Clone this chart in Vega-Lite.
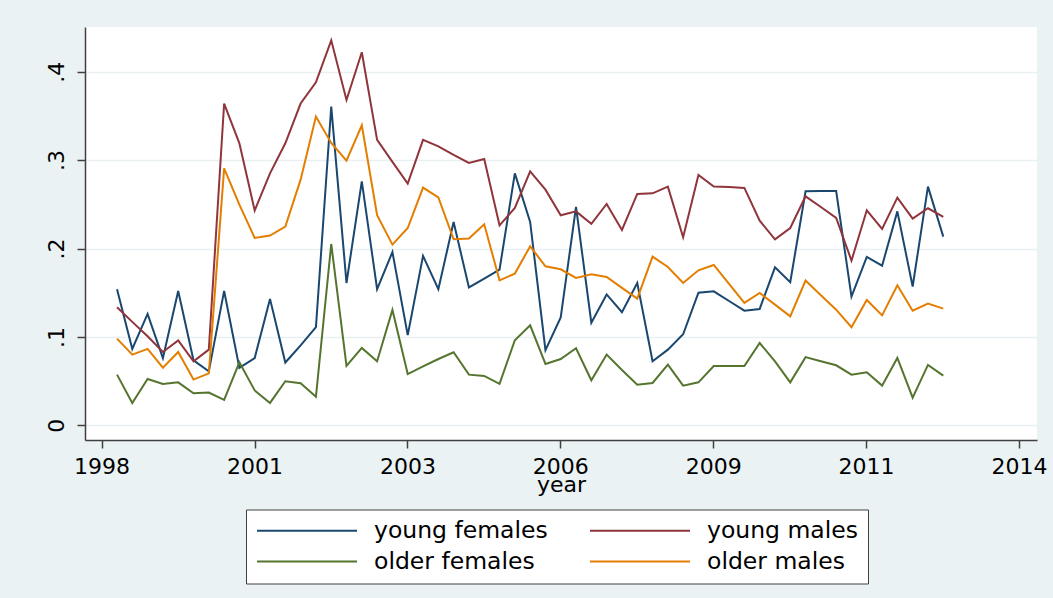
{
  "$schema": "https://vega.github.io/schema/vega-lite/v6.json",
  "width": 952,
  "height": 413,
  "autosize": {"type": "none"},
  "padding": {"left": 85, "top": 27, "right": 16, "bottom": 158},
  "background": "#EAF2F3",
  "config": {
    "font": "DejaVu Sans",
    "view": {"fill": "white", "stroke": null},
    "axis": {
      "domainColor": "#404040",
      "domainWidth": 1.5,
      "tickColor": "#404040",
      "tickWidth": 1.5,
      "tickSize": 8,
      "labelColor": "black",
      "labelFontSize": 22,
      "labelFlush": false,
      "labelOverlap": false,
      "titleColor": "black",
      "titleFontSize": 22,
      "titleFontWeight": "normal"
    }
  },
  "data": {
    "values": [
      {"year": 1998.269, "young females": 0.154, "young males": 0.1335, "older females": 0.0573, "older males": 0.098},
      {"year": 1998.535, "young females": 0.0864, "young males": 0.117, "older females": 0.0253, "older males": 0.080},
      {"year": 1998.802, "young females": 0.126, "young males": 0.1007, "older females": 0.0524, "older males": 0.0864},
      {"year": 1999.069, "young females": 0.076, "young males": 0.083, "older females": 0.0468, "older males": 0.0652},
      {"year": 1999.336, "young females": 0.152, "young males": 0.096, "older females": 0.0486, "older males": 0.083},
      {"year": 1999.603, "young females": 0.0735, "young males": 0.0724, "older females": 0.0362, "older males": 0.0517},
      {"year": 1999.870, "young females": 0.061, "young males": 0.0856, "older females": 0.037, "older males": 0.0588},
      {"year": 2000.137, "young females": 0.152, "young males": 0.364, "older females": 0.0287, "older males": 0.2907},
      {"year": 2000.403, "young females": 0.065, "young males": 0.319, "older females": 0.0713, "older males": 0.2496},
      {"year": 2000.670, "young females": 0.076, "young males": 0.243, "older females": 0.0394, "older males": 0.2119},
      {"year": 2000.937, "young females": 0.143, "young males": 0.285, "older females": 0.0253, "older males": 0.2146},
      {"year": 2001.204, "young females": 0.071, "young males": 0.319, "older females": 0.0498, "older males": 0.2247},
      {"year": 2001.471, "young females": 0.0905, "young males": 0.364, "older females": 0.0475, "older males": 0.2779},
      {"year": 2001.738, "young females": 0.111, "young males": 0.388, "older females": 0.0324, "older males": 0.3492},
      {"year": 2002.005, "young females": 0.3605, "young males": 0.4355, "older females": 0.2051, "older males": 0.3194},
      {"year": 2002.271, "young females": 0.161, "young males": 0.368, "older females": 0.0671, "older males": 0.2994},
      {"year": 2002.538, "young females": 0.276, "young males": 0.422, "older females": 0.0875, "older males": 0.3394},
      {"year": 2002.805, "young females": 0.154, "young males": 0.3228, "older females": 0.0724, "older males": 0.2376},
      {"year": 2003.072, "young females": 0.196, "young males": 0.298, "older females": 0.1305, "older males": 0.2044},
      {"year": 2003.339, "young females": 0.102, "young males": 0.2734, "older females": 0.058, "older males": 0.2232},
      {"year": 2003.606, "young females": 0.1916, "young males": 0.3228, "older females": 0.0667, "older males": 0.2689},
      {"year": 2003.873, "young females": 0.154, "young males": 0.3156, "older females": 0.075, "older males": 0.2579},
      {"year": 2004.139, "young females": 0.230, "young males": 0.3058, "older females": 0.0826, "older males": 0.2104},
      {"year": 2004.406, "young females": 0.156, "young males": 0.2968, "older females": 0.0573, "older males": 0.2112},
      {"year": 2004.673, "young females": 0.166, "young males": 0.3013, "older females": 0.0558, "older males": 0.2274},
      {"year": 2004.940, "young females": 0.176, "young males": 0.2262, "older females": 0.0468, "older males": 0.164},
      {"year": 2005.207, "young females": 0.285, "young males": 0.2459, "older females": 0.0962, "older males": 0.1716},
      {"year": 2005.474, "young females": 0.230, "young males": 0.2873, "older females": 0.1131, "older males": 0.2025},
      {"year": 2005.741, "young females": 0.085, "young males": 0.2666, "older females": 0.0694, "older males": 0.1799},
      {"year": 2006.007, "young females": 0.122, "young males": 0.2376, "older females": 0.075, "older males": 0.1765},
      {"year": 2006.274, "young females": 0.247, "young males": 0.242, "older females": 0.0871, "older males": 0.1667},
      {"year": 2006.541, "young females": 0.116, "young males": 0.228, "older females": 0.0509, "older males": 0.1708},
      {"year": 2006.808, "young females": 0.148, "young males": 0.2504, "older females": 0.080, "older males": 0.1678},
      {"year": 2007.075, "young females": 0.128, "young males": 0.221, "older females": 0.0626, "older males": 0.1554},
      {"year": 2007.342, "young females": 0.161, "young males": 0.2617, "older females": 0.046, "older males": 0.1433},
      {"year": 2007.609, "young females": 0.0724, "young males": 0.2624, "older females": 0.0479, "older males": 0.1908},
      {"year": 2007.876, "young females": 0.0856, "young males": 0.270, "older females": 0.0686, "older males": 0.1791},
      {"year": 2008.142, "young females": 0.103, "young males": 0.2127, "older females": 0.0449, "older males": 0.161},
      {"year": 2008.409, "young females": 0.150, "young males": 0.2832, "older females": 0.0486, "older males": 0.1753},
      {"year": 2008.676, "young females": 0.1516, "young males": 0.270, "older females": 0.0671, "older males": 0.1814},
      {"year": 2008.943, "young females": 0.1406, "young males": 0.2695, "older females": 0.0671, "older males": 0.1599},
      {"year": 2009.210, "young females": 0.1297, "young males": 0.2685, "older females": 0.0671, "older males": 0.1384},
      {"year": 2009.477, "young females": 0.1316, "young males": 0.2315, "older females": 0.0931, "older males": 0.1497},
      {"year": 2009.744, "young females": 0.1787, "young males": 0.2104, "older females": 0.0724, "older males": 0.1365},
      {"year": 2010.010, "young females": 0.1618, "young males": 0.2232, "older females": 0.0486, "older males": 0.1233},
      {"year": 2010.277, "young females": 0.2647, "young males": 0.259, "older females": 0.0771, "older males": 0.1637},
      {"year": 2010.544, "young females": 0.265, "young males": 0.247, "older females": 0.0724, "older males": 0.1471},
      {"year": 2010.811, "young females": 0.265, "young males": 0.2345, "older females": 0.0679, "older males": 0.1308},
      {"year": 2011.078, "young females": 0.1455, "young males": 0.1863, "older females": 0.0573, "older males": 0.1109},
      {"year": 2011.345, "young females": 0.1904, "young males": 0.2432, "older females": 0.060, "older males": 0.1418},
      {"year": 2011.612, "young females": 0.1806, "young males": 0.2221, "older females": 0.0449, "older males": 0.1244},
      {"year": 2011.878, "young females": 0.242, "young males": 0.2575, "older females": 0.0762, "older males": 0.1584},
      {"year": 2012.145, "young females": 0.157, "young males": 0.2338, "older females": 0.0313, "older males": 0.1297},
      {"year": 2012.412, "young females": 0.270, "young males": 0.2455, "older females": 0.0683, "older males": 0.1376},
      {"year": 2012.679, "young females": 0.2134, "young males": 0.2357, "older females": 0.0562, "older males": 0.132}
    ]
  },
  "transform": [
    {"fold": ["young females", "young males", "older females", "older males"], "as": ["group", "rate"]}
  ],
  "mark": {"type": "line", "strokeWidth": 2, "strokeJoin": "miter"},
  "encoding": {
    "x": {
      "field": "year",
      "type": "quantitative",
      "scale": {"domain": [1997.7105, 2014.3135], "nice": false, "zero": false},
      "axis": {
        "title": "year",
        "values": [1998, 2000.6667, 2003.3333, 2006, 2008.6667, 2011.3333, 2014],
        "format": ".0f",
        "grid": false,
        "labelPadding": 8,
        "labelBaseline": "top",
        "titleBaseline": "alphabetic",
        "titleY": 51.5
      }
    },
    "y": {
      "field": "rate",
      "type": "quantitative",
      "scale": {"domain": [-0.01663, 0.45057], "nice": false, "zero": false},
      "axis": {
        "title": null,
        "values": [0, 0.1, 0.2, 0.3, 0.4],
        "labelExpr": "datum.value == 0 ? '0' : replace(format(datum.value, '.1f'), '0.', '.')",
        "labelAngle": -90,
        "labelAlign": "center",
        "labelBaseline": "alphabetic",
        "labelPadding": 14,
        "grid": true,
        "gridColor": "#E8F0F2",
        "gridWidth": 1.5
      }
    },
    "color": {
      "field": "group",
      "type": "nominal",
      "scale": {
        "domain": ["young females", "young males", "older females", "older males"],
        "range": ["#1A476F", "#90353B", "#55752F", "#E37E00"]
      },
      "legend": {
        "title": null,
        "orient": "none",
        "legendX": 161,
        "legendY": 482.5,
        "direction": "horizontal",
        "columns": 2,
        "symbolType": "stroke",
        "symbolSize": 10000,
        "symbolStrokeWidth": 2,
        "clipHeight": 22,
        "labelFontSize": 23.5,
        "labelColor": "black",
        "labelLimit": 400,
        "labelOffset": 16,
        "columnPadding": 41,
        "rowPadding": 7,
        "padding": 10,
        "fillColor": "white",
        "strokeColor": "#404040"
      }
    }
  }
}
